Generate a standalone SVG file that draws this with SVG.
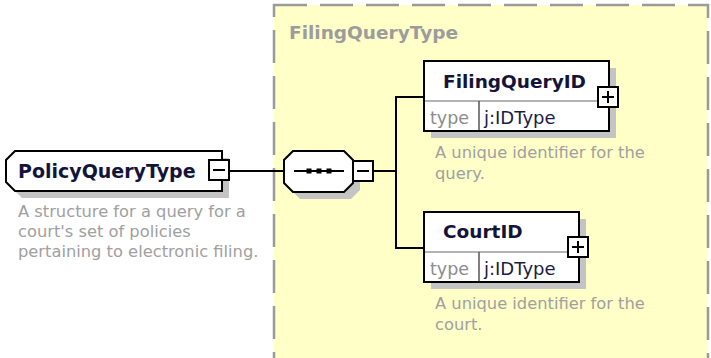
<svg xmlns="http://www.w3.org/2000/svg" width="711" height="358" viewBox="0 0 711 358">
<style>
.box{fill:#fff;stroke:#000;stroke-width:2}
.shadow{fill:#c4c4c4;stroke:none}
.btn{fill:#fff;stroke:#000;stroke-width:2}
.sign{stroke:#000;stroke-width:2;fill:none}
.conn{stroke:#000;stroke-width:2;fill:none}
.div{stroke:#9a9a9a;stroke-width:1.5}
.vdiv{stroke:#555;stroke-width:1.5}
.title{font-family:"DejaVu Sans",sans-serif;font-weight:bold;font-size:18.5px;fill:#14143a}
.desc{font-family:"DejaVu Sans",sans-serif;font-size:16.3px;fill:#a0a0a0}
.tlab{font-family:"DejaVu Sans",sans-serif;font-size:17.5px;fill:#8c8c8c}
.tval{font-family:"DejaVu Sans",sans-serif;font-size:18px;fill:#1b1b45}
.grp{font-family:"DejaVu Sans",sans-serif;font-weight:bold;font-size:18.5px;fill:#9c9c9c}
</style>
<rect width="711" height="358" fill="#fff"/>
<g id="FilingQueryTypeGroup">
<rect x="274" y="5" width="434" height="400" fill="#ffffc8" stroke="#9a9a9a" stroke-width="2.5" stroke-dasharray="33 13"/>
<text class="grp" x="289" y="39">FilingQueryType</text>
</g>
<g id="connectors">
<line class="conn" x1="229" y1="171" x2="284" y2="171"/>
<line class="conn" x1="373" y1="171" x2="396" y2="171"/>
<polyline class="conn" points="424,97 396,97 396,248 424,248"/>
</g>
<g id="PolicyQueryType">
<polygon class="shadow" points="22,158 229,158 229,198 22,198 13,189 13,167"/>
<polygon class="box" points="15,151 222,151 222,191 15,191 6,182 6,160"/>
<text class="title" x="18" y="178" style="font-size:19px">PolicyQueryType</text>
<rect class="btn" x="209" y="160" width="20" height="20"/>
<line class="sign" x1="213" y1="170" x2="225" y2="170"/>
<text class="desc" x="18" y="217">A structure for a query for a</text>
<text class="desc" x="18" y="237">court's set of policies</text>
<text class="desc" x="18" y="257">pertaining to electronic filing.</text>
</g>
<g id="sequence">
<polygon class="shadow" points="300,158 351,158 360,167 360,190 351,199 300,199 291,190 291,167"/>
<polygon class="box" points="293,151 344,151 353,160 353,183 344,192 293,192 284,183 284,160"/>
<line class="conn" x1="294" y1="171" x2="344" y2="171"/>
<rect x="306.5" y="168.5" width="5" height="5" fill="#000"/>
<rect x="316.5" y="168.5" width="5" height="5" fill="#000"/>
<rect x="326.5" y="168.5" width="5" height="5" fill="#000"/>
<rect class="btn" x="353" y="161" width="20" height="20"/>
<line class="sign" x1="357" y1="171" x2="369" y2="171"/>
</g>
<g id="FilingQueryID">
<rect class="shadow" x="431" y="68" width="185" height="70"/>
<rect class="box" x="424" y="61" width="185" height="70"/>
<line class="div" x1="425" y1="101" x2="608" y2="101"/>
<line class="vdiv" x1="479" y1="101" x2="479" y2="130"/>
<text class="title" x="443" y="88">FilingQueryID</text>
<text class="tlab" x="430" y="124">type</text>
<text class="tval" x="484" y="124">j:IDType</text>
<rect class="btn" x="598" y="87" width="20" height="20"/>
<path class="sign" d="M602 97H614M608 91V103"/>
<text class="desc" x="435" y="158">A unique identifier for the</text>
<text class="desc" x="435" y="179">query.</text>
</g>
<g id="CourtID">
<rect class="shadow" x="431" y="219" width="155" height="70"/>
<rect class="box" x="424" y="212" width="155" height="70"/>
<line class="div" x1="425" y1="252" x2="578" y2="252"/>
<line class="vdiv" x1="479" y1="252" x2="479" y2="281"/>
<text class="title" x="443" y="238">CourtID</text>
<text class="tlab" x="430" y="275">type</text>
<text class="tval" x="484" y="275">j:IDType</text>
<rect class="btn" x="568" y="237" width="20" height="20"/>
<path class="sign" d="M572 247H584M578 241V253"/>
<text class="desc" x="435" y="309">A unique identifier for the</text>
<text class="desc" x="435" y="330">court.</text>
</g>
</svg>
